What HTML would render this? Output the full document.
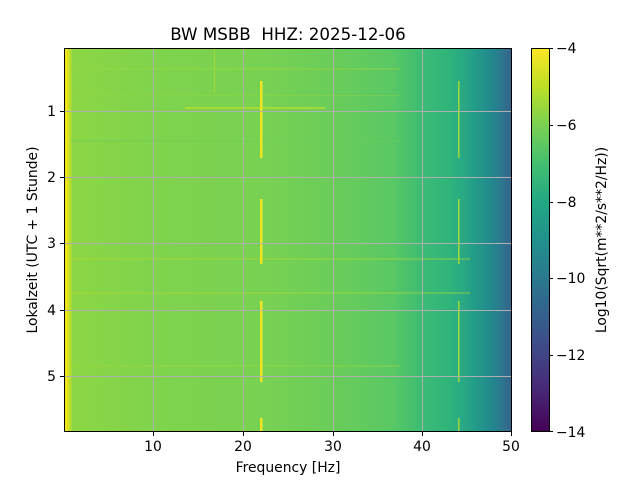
<!DOCTYPE html>
<html><head><style>
body{margin:0;background:#fff;}
svg{display:block;font-family:"DejaVu Sans","Liberation Sans",sans-serif;}
</style></head><body>
<svg width="640" height="480" viewBox="0 0 640 480">
<defs>
<linearGradient id="hm" x1="64" x2="512" y1="0" y2="0" gradientUnits="userSpaceOnUse">
<stop offset="0" stop-color="#fde725"/>
<stop offset="0.008" stop-color="#e2e418"/>
<stop offset="0.02" stop-color="#8bd646"/>
<stop offset="0.2" stop-color="#80d34c"/>
<stop offset="0.45" stop-color="#78d152"/>
<stop offset="0.6" stop-color="#6acd5a"/>
<stop offset="0.73" stop-color="#5ac864"/>
<stop offset="0.77" stop-color="#4ac16d"/>
<stop offset="0.8" stop-color="#3cbb75"/>
<stop offset="0.86" stop-color="#2fb47c"/>
<stop offset="0.9" stop-color="#26a585"/>
<stop offset="0.94" stop-color="#21918c"/>
<stop offset="0.97" stop-color="#287d8e"/>
<stop offset="1" stop-color="#35608d"/>
</linearGradient>
<linearGradient id="cb" x1="0" x2="0" y1="432" y2="48" gradientUnits="userSpaceOnUse">
<stop offset="0" stop-color="#440154"/>
<stop offset="0.1" stop-color="#482475"/>
<stop offset="0.2" stop-color="#414487"/>
<stop offset="0.3" stop-color="#355f8d"/>
<stop offset="0.4" stop-color="#2a788e"/>
<stop offset="0.5" stop-color="#21918c"/>
<stop offset="0.6" stop-color="#22a884"/>
<stop offset="0.7" stop-color="#44bf70"/>
<stop offset="0.8" stop-color="#7ad151"/>
<stop offset="0.9" stop-color="#bddf26"/>
<stop offset="1" stop-color="#fde725"/>
</linearGradient>
</defs>
<text x="288" y="40" font-size="16.7" text-anchor="middle">BW MSBB&#160; HHZ: 2025-12-06</text>
<rect x="64" y="48" width="448" height="384" fill="url(#hm)"/>
<g opacity="0.35">
<rect x="70" y="68" width="330" height="2" fill="#9bd93c"/>
<rect x="70" y="95" width="330" height="1" fill="#9bd93c"/>
<rect x="70" y="140" width="330" height="2" fill="#6acd5a"/>
<rect x="70" y="258" width="400" height="2" fill="#b0dd2f"/>
<rect x="70" y="292" width="400" height="2" fill="#b0dd2f"/>
<rect x="70" y="365" width="330" height="2" fill="#9bd93c"/>
</g>
<rect x="185" y="107" width="140" height="2" fill="#c8e020" opacity="0.6"/>
<g fill="#f0e51e">
<rect x="260" y="81" width="2.5" height="77"/>
<rect x="260" y="199" width="2.5" height="65"/>
<rect x="260" y="301" width="2.5" height="81"/>
<rect x="260" y="418" width="2.5" height="14"/>
</g>
<g fill="#9fda3a">
<rect x="458" y="81" width="1.5" height="77"/>
<rect x="458" y="199" width="1.5" height="65"/>
<rect x="458" y="301" width="1.5" height="81"/>
<rect x="458" y="418" width="1.5" height="14"/>
<rect x="214" y="48" width="1" height="45"/>
</g>
<g stroke="#b0b0b0" stroke-width="1">
<line x1="153.5" y1="48" x2="153.5" y2="432"/>
<line x1="243.5" y1="48" x2="243.5" y2="432"/>
<line x1="333.5" y1="48" x2="333.5" y2="432"/>
<line x1="422.5" y1="48" x2="422.5" y2="432"/>
<line x1="64" y1="111.5" x2="512" y2="111.5"/>
<line x1="64" y1="177.5" x2="512" y2="177.5"/>
<line x1="64" y1="243.5" x2="512" y2="243.5"/>
<line x1="64" y1="310.5" x2="512" y2="310.5"/>
<line x1="64" y1="376.5" x2="512" y2="376.5"/>
</g>
<rect x="64.5" y="48.5" width="447" height="383" fill="none" stroke="#000"/>
<g stroke="#000">
<line x1="153.5" y1="432" x2="153.5" y2="436"/>
<line x1="243.5" y1="432" x2="243.5" y2="436"/>
<line x1="333.5" y1="432" x2="333.5" y2="436"/>
<line x1="422.5" y1="432" x2="422.5" y2="436"/>
<line x1="511.5" y1="432" x2="511.5" y2="436"/>
<line x1="60" y1="111.5" x2="64" y2="111.5"/>
<line x1="60" y1="177.5" x2="64" y2="177.5"/>
<line x1="60" y1="243.5" x2="64" y2="243.5"/>
<line x1="60" y1="310.5" x2="64" y2="310.5"/>
<line x1="60" y1="376.5" x2="64" y2="376.5"/>
</g>
<g font-size="13.9" text-anchor="middle">
<text x="153" y="451">10</text><text x="243" y="451">20</text><text x="333" y="451">30</text><text x="422" y="451">40</text><text x="511" y="451">50</text>
<text x="288" y="472">Frequency [Hz]</text>
</g>
<g font-size="13.9" text-anchor="end">
<text x="56" y="116">1</text><text x="56" y="182">2</text><text x="56" y="248">3</text><text x="56" y="315">4</text><text x="56" y="381">5</text>
</g>
<text transform="translate(37,240) rotate(-90)" font-size="13.9" text-anchor="middle">Lokalzeit (UTC + 1 Stunde)</text>
<rect x="531" y="48" width="18" height="384" fill="url(#cb)"/>
<rect x="531.5" y="48.5" width="18" height="383" fill="none" stroke="#000"/>
<g stroke="#000">
<line x1="549" y1="48.5" x2="553" y2="48.5"/>
<line x1="549" y1="125.5" x2="553" y2="125.5"/>
<line x1="549" y1="202.5" x2="553" y2="202.5"/>
<line x1="549" y1="278.5" x2="553" y2="278.5"/>
<line x1="549" y1="355.5" x2="553" y2="355.5"/>
<line x1="549" y1="431.5" x2="553" y2="431.5"/>
</g>
<g font-size="13.9">
<text x="556" y="53">−4</text><text x="556" y="130">−6</text><text x="556" y="207">−8</text><text x="556" y="283">−10</text><text x="556" y="360">−12</text><text x="556" y="437">−14</text>
</g>
<text transform="translate(606,240) rotate(-90)" font-size="13.9" text-anchor="middle">Log10(Sqrt(m**2/s**2/Hz))</text>
</svg>
</body></html>
